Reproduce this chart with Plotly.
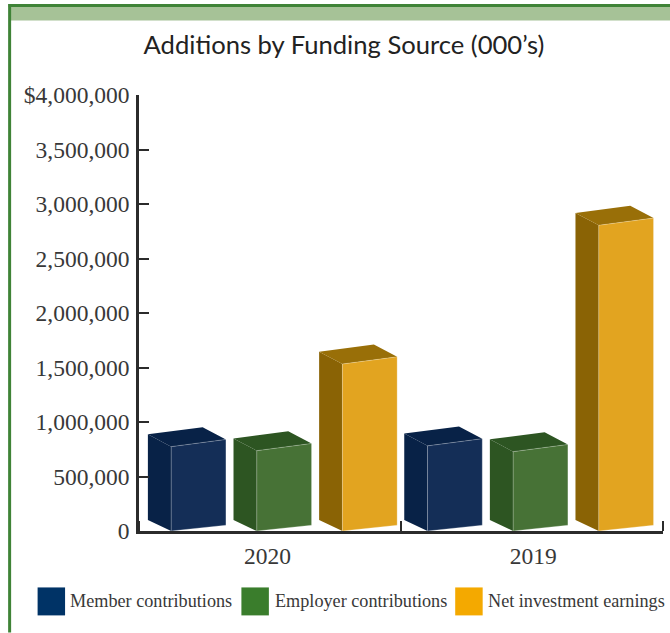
import plotly.graph_objects as go

years = ["2020", "2019"]
series = ["Member contributions", "Employer contributions", "Net investment earnings"]
member = [774000, 781000]
employer = [737000, 728000]
net_investment = [1532000, 2805000]
y_ticks = [0, 500000, 1000000, 1500000, 2000000, 2500000, 3000000, 3500000, 4000000]
y_labels = ["0", "500,000", "1,000,000", "1,500,000", "2,000,000", "2,500,000",
            "3,000,000", "3,500,000", "$4,000,000"]

front_colors = ["#142e57", "#477236", "#e2a420"]
side_colors = ["#082247", "#2d5522", "#8a6305"]
top_colors = ["#082247", "#2d5522", "#996f08"]
swatch_colors = ["#003366", "#3a7d2c", "#f4a900"]

W, H = 670, 633
L, R, T, B = 138.5, 7, 95, 101.5
PW, PH = W - L - R, H - T - B
PX_X = 2 / PW            # x-axis units per pixel
PX_Y = 4000000 / PH      # y-axis units per pixel

GROUP_START = [(170.7 - L) * PX_X, (427.3 - L) * PX_X]
STEP = 85.7 * PX_X
BAR_W = 54.8 * PX_X
DX = 23.3 * PX_X
DY_TOP, DY_BOT = 12.3 * PX_Y, 11 * PX_Y
SK_TOP, SK_BOT = 7.2 * PX_Y, 5.8 * PX_Y


def faces(values, s):
    fx, fy, sx, sy, tx, ty = [], [], [], [], [], []
    for g, v in enumerate(values):
        x0 = GROUP_START[g] + s * STEP
        x1 = x0 + BAR_W
        fx += [x0, x1, x1, x0, x0, None]
        fy += [0, SK_BOT, v + SK_TOP, v, 0, None]
        sx += [x0 - DX, x0, x0, x0 - DX, x0 - DX, None]
        sy += [DY_BOT, 0, v, v + DY_TOP, DY_BOT, None]
        tx += [x0 - DX, x0, x1, x1 - DX, x0 - DX, None]
        ty += [v + DY_TOP, v, v + SK_TOP, v + SK_TOP + DY_TOP, v + DY_TOP, None]
    return (fx, fy), (sx, sy), (tx, ty)


fig = go.Figure()
for s, (name, vals) in enumerate(zip(series, [member, employer, net_investment])):
    front, side, top = faces(vals, s)
    for pts, col, edge in ((side, side_colors[s], "rgba(0,0,0,0)"),
                           (top, top_colors[s], "rgba(0,0,0,0)"),
                           (front, front_colors[s], "rgba(255,255,255,0.35)")):
        fig.add_trace(go.Scatter(x=pts[0], y=pts[1], mode="lines", fill="toself",
                                 fillcolor=col, line=dict(color=edge, width=0.7),
                                 name=name, showlegend=False, hoverinfo="name"))

INK = "#2b2b2b"
TEXT = "#383838"
SERIF = "Liberation Serif"
GREEN = "#3f8337"


def px(x):
    return (x - L) / PW


def py(y):
    return 1 - (y - T) / PH


shapes = [
    dict(type="rect", xref="paper", yref="paper", x0=px(9), x1=px(W), y0=py(20.5), y1=py(6.5),
         fillcolor="#a6c297", line=dict(width=0)),
    dict(type="line", xref="paper", yref="paper", x0=px(9), x1=px(9), y0=py(4), y1=py(H),
         line=dict(color=GREEN, width=3)),
    dict(type="line", xref="paper", yref="paper", x0=px(8), x1=px(W), y0=py(5.5), y1=py(5.5),
         line=dict(color=GREEN, width=3)),
]
annotations = []
swatch_x = [37, 241, 455]
text_x = [67.5, 272.5, 485.5]
for name, col, sx, tx in zip(series, swatch_colors, swatch_x, text_x):
    shapes.append(dict(type="rect", xref="paper", yref="paper",
                       x0=px(sx), x1=px(sx + 27.5), y0=py(588), y1=py(616),
                       fillcolor=col, line=dict(width=0)))
    annotations.append(dict(xref="paper", yref="paper", x=px(tx), y=py(601.5), text=name,
                            showarrow=False, xanchor="left", yanchor="middle",
                            font=dict(family=SERIF, size=18.2, color=TEXT)))

fig.update_layout(
    width=W, height=H, margin=dict(l=L, r=R, t=T, b=B, autoexpand=False),
    paper_bgcolor="white", plot_bgcolor="white", showlegend=False,
    title=dict(text="Additions by Funding Source (000’s)", x=344 / W, xanchor="center",
               y=1 - 45 / H, yanchor="middle",
               font=dict(family="Lato", size=25.6, color="#222222")),
    xaxis=dict(range=[0, 2], tickmode="array", tickvals=[0.49, 1.505], ticktext=years,
               ticks="", showgrid=False, zeroline=False, showline=True, linecolor=INK, linewidth=2.5,
               ticklabelstandoff=2, tickfont=dict(family=SERIF, size=23.5, color=TEXT),
               minor=dict(tickmode="array", tickvals=[0, 1, 2], ticks="inside", ticklen=10,
                          tickwidth=2, tickcolor=INK, showgrid=False)),
    yaxis=dict(range=[0, 4000000], tickmode="array", tickvals=y_ticks, ticktext=y_labels,
               ticks="inside", ticklen=10, tickwidth=2, tickcolor=INK, showgrid=False, zeroline=False,
               showline=True, linecolor=INK, linewidth=2.5, ticklabelstandoff=2,
               tickfont=dict(family=SERIF, size=23.5, color=TEXT)),
    shapes=shapes, annotations=annotations,
)

fig.write_html("out.html", config=dict(displayModeBar=False),
               post_script="document.body.style.margin='0';")
